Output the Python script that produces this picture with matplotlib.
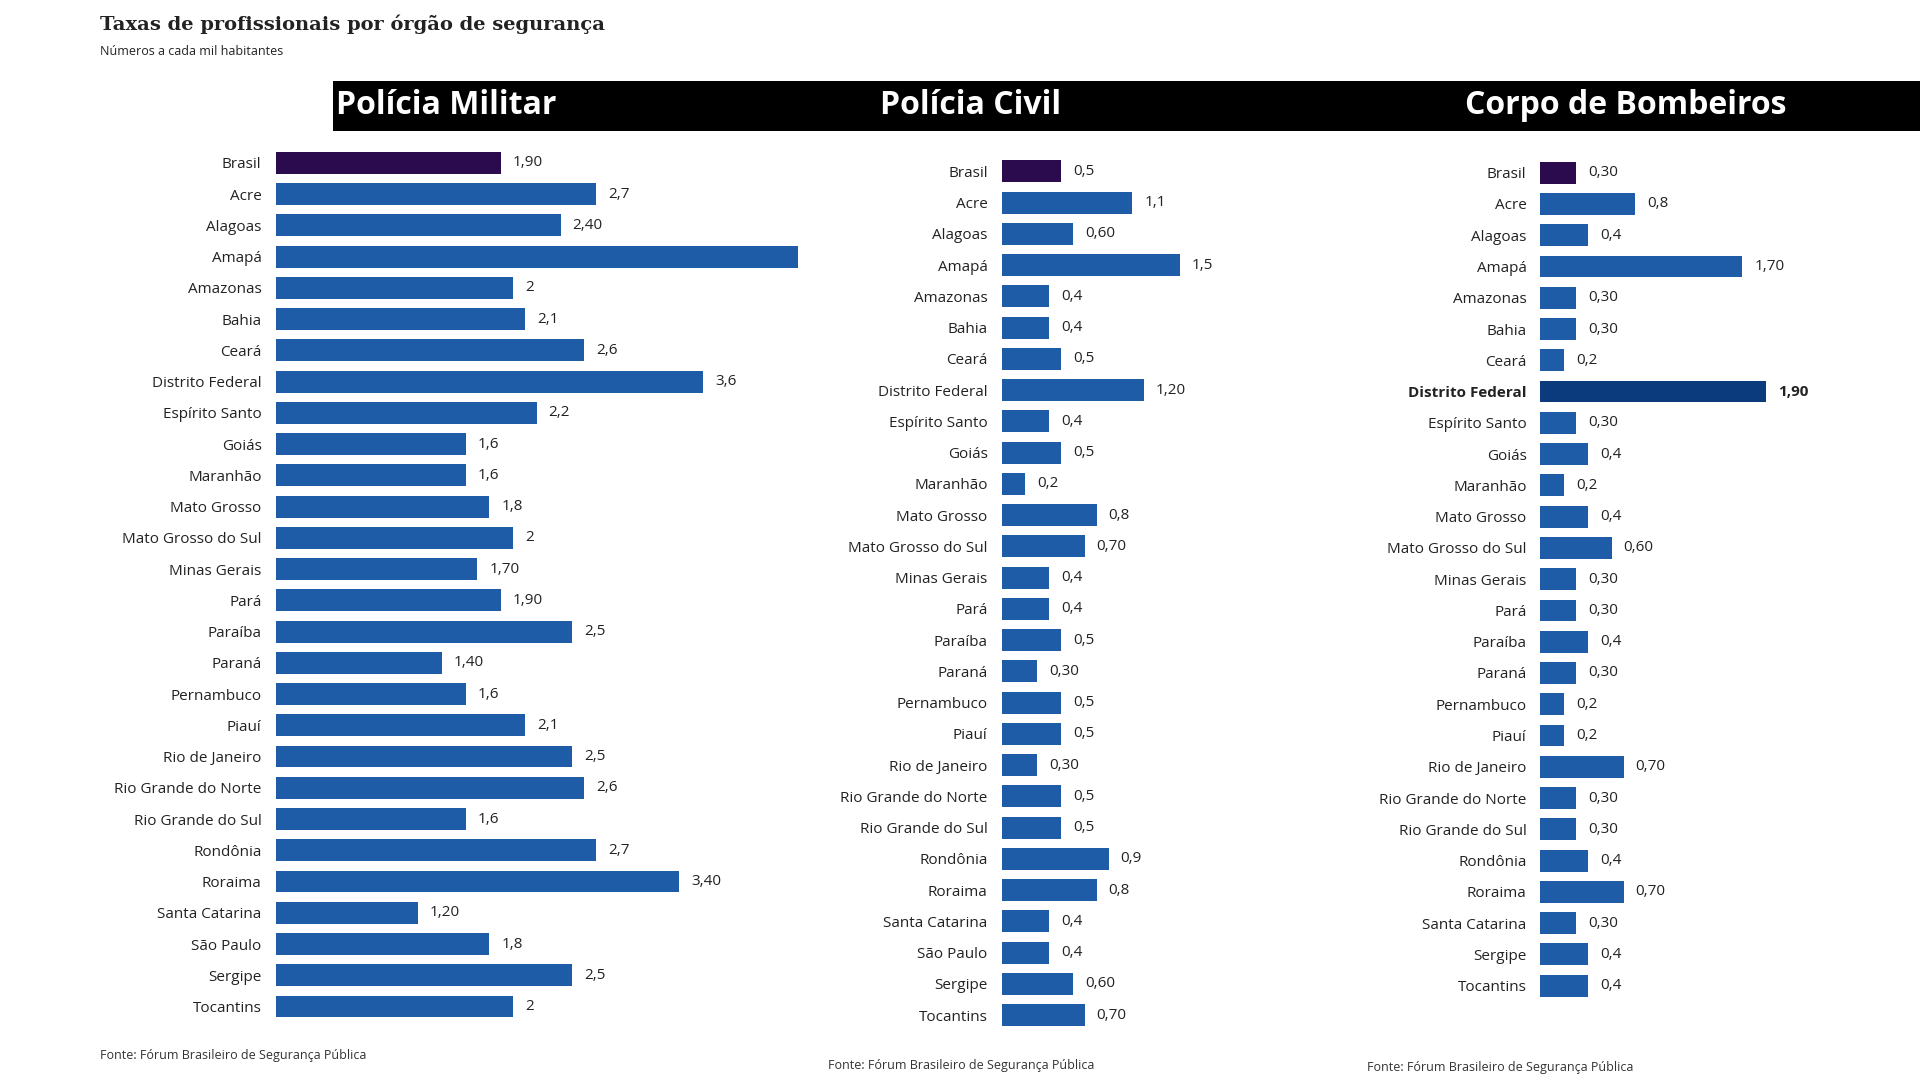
import matplotlib
matplotlib.use("Agg")
import matplotlib.pyplot as plt

# ---- data ----
states_pm = ["Brasil", "Acre", "Alagoas", "Amapá", "Amazonas", "Bahia", "Ceará",
             "Distrito Federal", "Espírito Santo", "Goiás", "Maranhão", "Mato Grosso",
             "Mato Grosso do Sul", "Minas Gerais", "Pará", "Paraíba", "Paraná",
             "Pernambuco", "Piauí", "Rio de Janeiro", "Rio Grande do Norte",
             "Rio Grande do Sul", "Rondônia", "Roraima", "Santa Catarina",
             "São Paulo", "Sergipe", "Tocantins"]
pm_values = [1.90, 2.7, 2.40, 4.4, 2, 2.1, 2.6, 3.6, 2.2, 1.6, 1.6, 1.8, 2, 1.70,
             1.90, 2.5, 1.40, 1.6, 2.1, 2.5, 2.6, 1.6, 2.7, 3.40, 1.20, 1.8, 2.5, 2]
pm_labels = ["1,90", "2,7", "2,40", "", "2", "2,1", "2,6", "3,6", "2,2", "1,6", "1,6",
             "1,8", "2", "1,70", "1,90", "2,5", "1,40", "1,6", "2,1", "2,5", "2,6",
             "1,6", "2,7", "3,40", "1,20", "1,8", "2,5", "2"]

states_pc = states_pm
pc_values = [0.5, 1.1, 0.60, 1.5, 0.4, 0.4, 0.5, 1.20, 0.4, 0.5, 0.2, 0.8, 0.70, 0.4,
             0.4, 0.5, 0.30, 0.5, 0.5, 0.30, 0.5, 0.5, 0.9, 0.8, 0.4, 0.4, 0.60, 0.70]
pc_labels = ["0,5", "1,1", "0,60", "1,5", "0,4", "0,4", "0,5", "1,20", "0,4", "0,5",
             "0,2", "0,8", "0,70", "0,4", "0,4", "0,5", "0,30", "0,5", "0,5", "0,30",
             "0,5", "0,5", "0,9", "0,8", "0,4", "0,4", "0,60", "0,70"]

states_cb = [s for s in states_pm if s != "São Paulo"]
cb_values = [0.30, 0.8, 0.4, 1.70, 0.30, 0.30, 0.2, 1.90, 0.30, 0.4, 0.2, 0.4, 0.60,
             0.30, 0.30, 0.4, 0.30, 0.2, 0.2, 0.70, 0.30, 0.30, 0.4, 0.70, 0.30, 0.4, 0.4]
cb_labels = ["0,30", "0,8", "0,4", "1,70", "0,30", "0,30", "0,2", "1,90", "0,30", "0,4",
             "0,2", "0,4", "0,60", "0,30", "0,30", "0,4", "0,30", "0,2", "0,2", "0,70",
             "0,30", "0,30", "0,4", "0,70", "0,30", "0,4", "0,4"]

BLUE = "#1f5ca8"
PURPLE = "#2b0a4d"
DARK = "#0b3b7c"
FONT = "Open Sans"

W, H = 1568, 882  # layout measured on a scaled view; converted to fractions
fig = plt.figure(figsize=(19.2, 10.8), dpi=100)
fig.patch.set_facecolor("white")


def panel(states, values, labels, x0, y_first, y_last, highlight=None):
    n = len(states)
    step = (y_last - y_first) / (n - 1)
    px_per_unit = 97.0
    width_px = 440
    top = y_first - step / 2
    bottom = y_last + step / 2
    ax = fig.add_axes([x0 / W, 1 - bottom / H, width_px / W, (bottom - top) / H])
    colors = []
    for i, s in enumerate(states):
        if s == "Brasil":
            colors.append(PURPLE)
        elif s == highlight:
            colors.append(DARK)
        else:
            colors.append(BLUE)
    ypos = list(range(n))
    ax.barh(ypos, values, height=0.7, color=colors)
    ax.set_ylim(n - 0.5, -0.5)
    ax.set_xlim(0, width_px / px_per_unit)
    ax.set_yticks(ypos)
    ax.set_yticklabels(states, fontsize=11, family=FONT, color="#222222")
    for t, s in zip(ax.get_yticklabels(), states):
        if s == highlight:
            t.set_fontweight("bold")
    ax.tick_params(axis="y", length=0, pad=10)
    ax.set_xticks([])
    for sp in ax.spines.values():
        sp.set_visible(False)
    for y, v, lab, s in zip(ypos, values, labels, states):
        ax.text(v + 0.1, y, lab, va="center", ha="left", fontsize=11, family=FONT,
                color="#222222", fontweight="bold" if s == highlight else "normal")
    return ax


panel(states_pm, pm_values, pm_labels, 225, 133, 822)
panel(states_pc, pc_values, pc_labels, 818, 140, 829)
panel(states_cb, cb_values, cb_labels, 1258, 141, 805, highlight="Distrito Federal")

# black header band
band = fig.add_axes([272 / W, 1 - 107 / H, 1 - 272 / W, 41 / H])
band.set_facecolor("black")
band.set_xticks([])
band.set_yticks([])
for sp in band.spines.values():
    sp.set_visible(False)
fig.text(274 / W, 1 - 86 / H, "Polícia Militar", color="white", fontsize=23,
         fontweight="bold", family=FONT, va="center", ha="left")
fig.text(793 / W, 1 - 86 / H, "Polícia Civil", color="white", fontsize=23,
         fontweight="bold", family=FONT, va="center", ha="center")
fig.text(1328 / W, 1 - 86 / H, "Corpo de Bombeiros", color="white", fontsize=23,
         fontweight="bold", family=FONT, va="center", ha="center")

fig.text(82 / W, 1 - 20 / H, "Taxas de profissionais por órgão de segurança",
         fontsize=14, fontweight="bold", family="DejaVu Serif", color="#222222",
         va="center")
fig.text(82 / W, 1 - 42 / H, "Números a cada mil habitantes", fontsize=9,
         family=FONT, color="#222222", va="center")

src = "Fonte: Fórum Brasileiro de Segurança Pública"
fig.text(82 / W, 1 - 862 / H, src, fontsize=9, family=FONT, color="#333333", va="center")
fig.text(676 / W, 1 - 870 / H, src, fontsize=9, family=FONT, color="#333333", va="center")
fig.text(1116 / W, 1 - 872 / H, src, fontsize=9, family=FONT, color="#333333", va="center")

fig.savefig("out.png", dpi=100, facecolor="white")
